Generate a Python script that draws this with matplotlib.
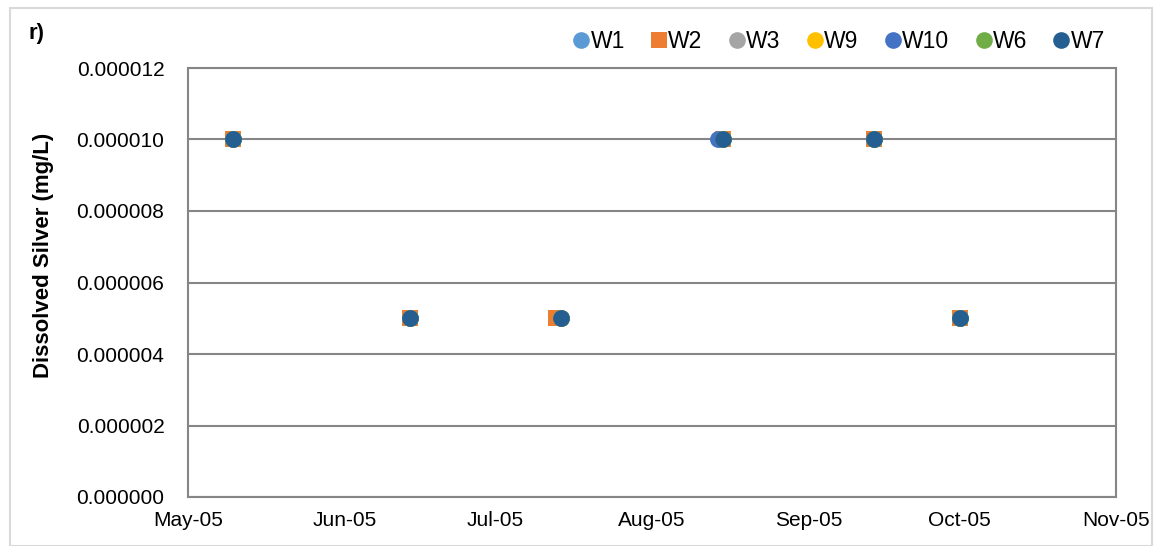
import matplotlib
matplotlib.use("Agg")
import matplotlib.pyplot as plt
from matplotlib.patches import Rectangle
import datetime as dt

plt.rcParams['font.family'] = ['Liberation Sans', 'DejaVu Sans']

series = ["W1", "W2", "W3", "W9", "W10", "W6", "W7"]
colors = ["#5B9BD5", "#ED7D31", "#A5A5A5", "#FFC000", "#4472C4", "#70AD47", "#255E91"]
markers = ["o", "s", "o", "o", "o", "o", "o"]

common_dates = ["2005-05-10", "2005-06-14", "2005-07-14", "2005-08-15", "2005-09-14", "2005-10-01"]
values = [1e-5, 5e-6, 5e-6, 1e-5, 1e-5, 5e-6]
dates_by_series = {
    "W1": ["2005-05-10", "2005-06-14", "2005-07-14", "2005-08-14", "2005-09-14", "2005-10-01"],
    "W2": ["2005-05-10", "2005-06-14", "2005-07-13", "2005-08-15", "2005-09-14", "2005-10-01"],
    "W3": common_dates,
    "W9": common_dates,
    "W10": ["2005-05-10", "2005-06-14", "2005-07-14", "2005-08-14", "2005-09-14", "2005-10-01"],
    "W6": common_dates,
    "W7": common_dates,
}
ytick_vals = [0, 2e-6, 4e-6, 6e-6, 8e-6, 10e-6, 12e-6]
xtick_dates = ["2005-05-01", "2005-06-01", "2005-07-01", "2005-08-01", "2005-09-01", "2005-10-01", "2005-11-01"]

W, H = 1155, 546
fig = plt.figure(figsize=(W/100, H/100), dpi=100)
ax = fig.add_axes([188/W, 1-497/H, (1116-188)/W, (497-68)/H])

fig.patches.append(Rectangle((10/W, 0), (1152-10)/W, 1-8/H, transform=fig.transFigure,
                             fill=False, edgecolor="#D9D9D9", linewidth=1.5))

for s, c, m in zip(series, colors, markers):
    d = [dt.datetime.strptime(x, "%Y-%m-%d") for x in dates_by_series[s]]
    ms = 12 if m == "s" else 12
    ax.plot(d, values, linestyle="none", marker=m, color=c, markersize=ms,
            markeredgewidth=0, label=s)

ax.set_xlim(dt.datetime(2005, 5, 1), dt.datetime(2005, 11, 1))
ax.set_ylim(0, 12e-6)
ax.set_yticks(ytick_vals)
ax.set_yticklabels([f"{v:.6f}" for v in ytick_vals], fontsize=15)
xt = [dt.datetime.strptime(x, "%Y-%m-%d") for x in xtick_dates]
ax.set_xticks(xt)
ax.set_xticklabels([x.strftime("%b-%y") for x in xt], fontsize=15)
ax.tick_params(axis="y", length=0, pad=17)
ax.tick_params(axis="x", length=0, pad=10)
ax.grid(axis="y", color="#868686", linewidth=1.5)
ax.set_axisbelow(True)
for sp in ax.spines.values():
    sp.set_color("#868686")
    sp.set_linewidth(1.5)

ax.set_ylabel("Dissolved Silver (mg/L)", fontsize=16, fontweight="bold")
ax.yaxis.set_label_coords((54-188)/(1116-188), (497-255)/(497-68))

fig.text(28/W, 1-33/H, "r)", fontsize=16, fontweight="bold", va="center", ha="left")

leg = ax.legend(loc="lower right", bbox_to_anchor=(1114/W, 1-62/H), bbox_transform=fig.transFigure,
                ncol=7, frameon=False, fontsize=16.5, handletextpad=-0.3, columnspacing=0.8,
                handlelength=1.4, markerscale=1.0, borderaxespad=0)

fig.savefig("out.png", dpi=100)
